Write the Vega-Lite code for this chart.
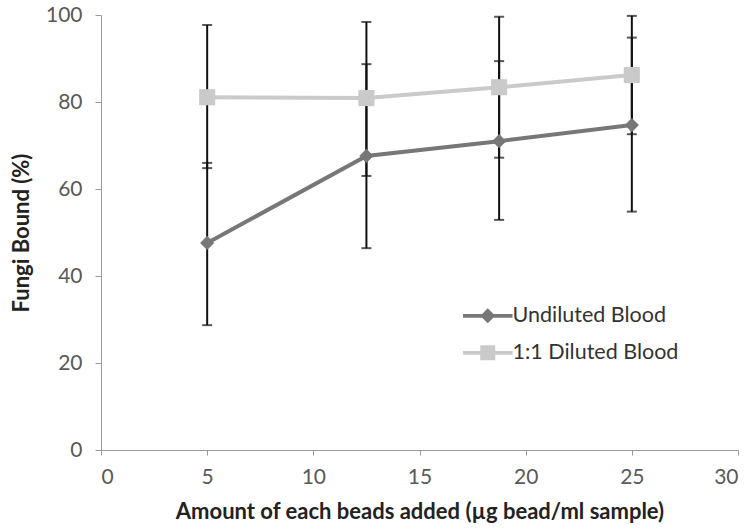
{
  "$schema": "https://vega.github.io/schema/vega-lite/v6.json",
  "width": 637,
  "height": 435,
  "autosize": {"type": "none"},
  "padding": {"left": 101, "top": 15, "right": 14, "bottom": 79},
  "background": "white",
  "config": {
    "view": {"stroke": null},
    "font": "Lato",
    "axis": {
      "labelFont": "Lato", "titleFont": "Lato",
      "labelColor": "#595959", "labelFontSize": 21,
      "titleColor": "#222222", "titleFontSize": 22, "titleFontWeight": "bold",
      "domainColor": "#9a9a9a", "tickColor": "#9a9a9a", "grid": false
    },
    "legend": {"labelFont": "Lato", "labelFontSize": 21.5, "labelColor": "#333333", "labelLimit": 400}
  },
  "data": {"values": [
    {"series": "Undiluted Blood", "x": 5, "y": 47.6, "lo": 28.7, "hi": 66.0},
    {"series": "Undiluted Blood", "x": 12.5, "y": 67.6, "lo": 46.4, "hi": 88.7},
    {"series": "Undiluted Blood", "x": 18.75, "y": 71.0, "lo": 52.9, "hi": 89.4},
    {"series": "Undiluted Blood", "x": 25, "y": 74.7, "lo": 54.8, "hi": 94.8},
    {"series": "1:1 Diluted Blood", "x": 5, "y": 81.1, "lo": 64.8, "hi": 97.7},
    {"series": "1:1 Diluted Blood", "x": 12.5, "y": 80.9, "lo": 63.0, "hi": 98.4},
    {"series": "1:1 Diluted Blood", "x": 18.75, "y": 83.4, "lo": 67.2, "hi": 99.6},
    {"series": "1:1 Diluted Blood", "x": 25, "y": 86.2, "lo": 72.6, "hi": 99.8}
  ]},
  "layer": [
    {
      "mark": {"type": "rule", "color": "#111111", "strokeWidth": 2},
      "encoding": {
        "x": {"field": "x", "type": "quantitative", "scale": {"domain": [0, 30]},
              "axis": {"values": [0, 5, 10, 15, 20, 25, 30], "title": "Amount of each beads added (µg bead/ml sample)", "tickSize": 5, "labelPadding": 11, "titlePadding": 14}},
        "y": {"field": "lo", "type": "quantitative", "scale": {"domain": [0, 100]},
              "axis": {"values": [0, 20, 40, 60, 80, 100], "title": "Fungi Bound (%)", "tickSize": 6, "labelPadding": 13, "titlePadding": 12}},
        "y2": {"field": "hi"}
      }
    },
    {
      "mark": {"type": "tick", "orient": "horizontal", "color": "#111111", "size": 10, "thickness": 2},
      "encoding": {
        "x": {"field": "x", "type": "quantitative"},
        "y": {"field": "lo", "type": "quantitative"}
      }
    },
    {
      "mark": {"type": "tick", "orient": "horizontal", "color": "#111111", "size": 10, "thickness": 2},
      "encoding": {
        "x": {"field": "x", "type": "quantitative"},
        "y": {"field": "hi", "type": "quantitative"}
      }
    },
    {
      "mark": {"type": "line", "strokeWidth": 4},
      "encoding": {
        "x": {"field": "x", "type": "quantitative"},
        "y": {"field": "y", "type": "quantitative"},
        "color": {"field": "series", "type": "nominal",
                  "scale": {"domain": ["Undiluted Blood", "1:1 Diluted Blood"], "range": ["#777777", "#cacaca"]}}
      }
    },
    {
      "mark": {"type": "point", "filled": true, "opacity": 1, "strokeWidth": 0},
      "encoding": {
        "x": {"field": "x", "type": "quantitative"},
        "y": {"field": "y", "type": "quantitative"},
        "color": {"field": "series", "type": "nominal"},
        "shape": {"condition": {"test": "datum.series === 'Undiluted Blood'", "value": "diamond"}, "value": "square"},
        "size": {"condition": {"test": "datum.series === 'Undiluted Blood'", "value": 200}, "value": 260}
      }
    },
    {
      "mark": {"type": "point", "filled": true, "opacity": 0},
      "encoding": {
        "x": {"field": "x", "type": "quantitative"},
        "y": {"field": "y", "type": "quantitative"},
        "color": {"field": "series", "type": "nominal"},
        "shape": {"field": "series", "type": "nominal",
                  "scale": {"domain": ["Undiluted Blood", "1:1 Diluted Blood"],
                            "range": ["M-3.3,-0.25L3.3,-0.25L3.3,0.25L-3.3,0.25Z M0,-1L1,0L0,1L-1,0Z",
                                      "M-3.3,-0.25L3.3,-0.25L3.3,0.25L-3.3,0.25Z M-1,-1L1,-1L1,1L-1,1Z"]},
                  "legend": {"title": null, "orient": "none", "legendX": 376, "legendY": 290,
                             "symbolSize": 225, "symbolOpacity": 1, "symbolStrokeWidth": 0,
                             "labelOffset": 14, "rowPadding": 14, "padding": 0}}
      }
    }
  ]
}
